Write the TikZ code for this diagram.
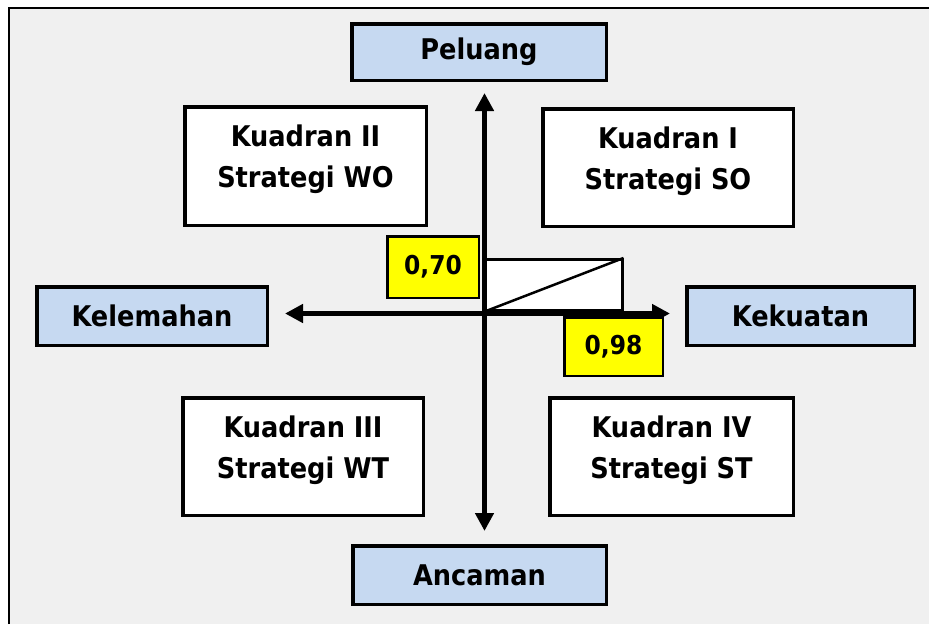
\documentclass[tikz,border=0pt]{standalone}
\usepackage{fontspec}
\setmainfont{DejaVu Sans Condensed}
\usetikzlibrary{arrows.meta}
\definecolor{bggray}{HTML}{F0F0F0}
\definecolor{lblue}{HTML}{C6D9F1}
\definecolor{yel}{HTML}{FFFF00}
\begin{document}
\begin{tikzpicture}[x=1pt,y=-1pt,
  axisbox/.style={draw=black,line width=3.5pt,fill=lblue,inner sep=0pt,font=\fontsize{28.5}{34}\selectfont\bfseries},
  quadbox/.style={draw=black,line width=3.5pt,fill=white,inner sep=0pt},
  quadtext/.style={inner sep=0pt,anchor=north,align=center,yshift=-20pt,font=\fontsize{28.5}{41}\selectfont\bfseries},
  numbox/.style={draw=black,line width=2.5pt,fill=yel,inner sep=0pt,font=\fontsize{26}{30}\selectfont\bfseries},
  axisline/.style={line width=5pt,{Triangle[length=18pt,width=18pt]}-{Triangle[length=18pt,width=18pt]}}]
\useasboundingbox (0,0) rectangle (929,624);
\fill[white] (0,0) rectangle (929,624);
\fill[bggray] (9,8) rectangle (929,624);
\draw[line width=2.8pt] (9,624) -- (9,8) -- (929,8);

% score rectangle with diagonal
\node[draw=black,line width=3pt,fill=white,inner sep=0pt,minimum width=137pt,minimum height=51pt] (sc) at (553.5,285) {};
\draw[line width=2.5pt] (sc.south west) -- (sc.north east);

% axes
\coordinate (vt) at (484.5,93);
\coordinate (vb) at (484.5,531);
\coordinate (hl) at (285,313.5);
\coordinate (hr) at (670,313.5);
\draw[axisline] (vt) -- (vb);
\draw[axisline] (hl) -- (hr);

% axis labels
\node[axisbox,minimum width=254.5pt,minimum height=56.5pt] (pel) at (479,52) {Peluang};
\node[axisbox,minimum width=253.5pt,minimum height=58.5pt] (anc) at (479.5,575) {Ancaman};
\node[axisbox,minimum width=230.5pt,minimum height=58.5pt] (kel) at (152,316) {Kelemahan};
\node[axisbox,minimum width=227.5pt,minimum height=58.5pt] (kek) at (800.5,316) {Kekuatan};

% quadrants
\node[quadbox,minimum width=241.5pt,minimum height=118.5pt] (q2) at (305.5,166) {};
\node[quadtext] (q2t) at (q2.north) {Kuadran II\\Strategi WO};
\node[quadbox,minimum width=250.5pt,minimum height=117.5pt] (q1) at (668,167.5) {};
\node[quadtext] (q1t) at (q1.north) {Kuadran I\\Strategi SO};
\node[quadbox,minimum width=240.5pt,minimum height=117.5pt] (q3) at (303,456.5) {};
\node[quadtext] (q3t) at (q3.north) {Kuadran III\\Strategi WT};
\node[quadbox,minimum width=243.5pt,minimum height=117.5pt] (q4) at (671.5,456.5) {};
\node[quadtext] (q4t) at (q4.north) {Kuadran IV\\Strategi ST};

% values
\node[numbox,minimum width=91.5pt,minimum height=61.5pt] (v70) at (433,267) {0,70};
\node[numbox,minimum width=98.5pt,minimum height=58.5pt] (v98) at (613.5,346.5) {0,98};
\end{tikzpicture}
\end{document}
